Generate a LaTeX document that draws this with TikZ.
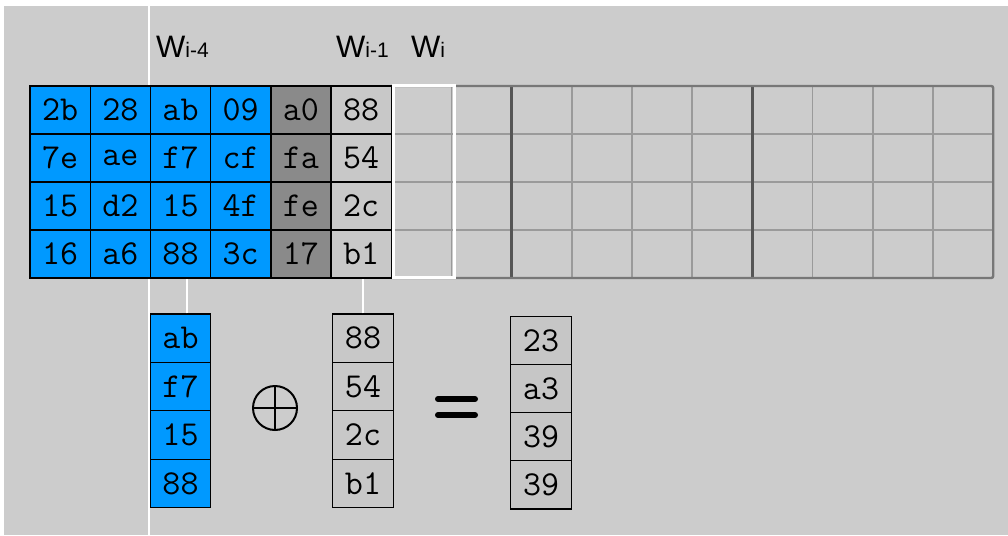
\documentclass[tikz,border=0pt]{standalone}
\usepackage{fontspec}
\setmainfont{Liberation Sans}
\definecolor{bg}{HTML}{CCCCCC}
\definecolor{aesblue}{HTML}{0099FF}
\definecolor{darkcell}{HTML}{8A8A8A}
\definecolor{lightcell}{HTML}{C8C8C8}
\definecolor{resultcell}{HTML}{C6C6C6}
\definecolor{gridgray}{HTML}{9A9A9A}
\definecolor{thickgray}{HTML}{555555}
\definecolor{bordergray}{HTML}{777777}
\begin{document}
\begin{tikzpicture}[x=1pt,y=-1pt,
  cell/.style={draw=black, line width=1.3pt, minimum width=60.2pt, minimum height=48pt,
    inner sep=0pt, font=\ttfamily\fontsize{35}{35}\selectfont, text=black},
  bcell/.style={cell, minimum width=60.5pt, minimum height=48.4pt},
  wline/.style={draw=white, line width=1.8pt},
  glabel/.style={anchor=base west, inner sep=0pt, font=\fontsize{31}{31}\selectfont}
]
\useasboundingbox (0,0) rectangle (1008,535);
\fill[bg] (4,6) rectangle (1008,535);
% guide line
\coordinate (gtop) at (149,6);
\coordinate (gbot) at (149,535);
\draw[wline] (gtop) -- (gbot);
% empty grid
\foreach \k in {7,...,15} {
  \draw[gridgray, line width=1.6pt] ({30+\k*60.2},86) -- ({30+\k*60.2},278);
}
\foreach \j in {1,2,3} {
  \draw[gridgray, line width=1.6pt] (391.2,{86+\j*48}) -- (993.2,{86+\j*48});
}
\foreach \k in {8,12} {
  \draw[thickgray, line width=3pt] ({30+\k*60.2},86) -- ({30+\k*60.2},278);
}
\draw[bordergray, line width=2.4pt, rounded corners=2pt] (391.2,86) -- (993.2,86) -- (993.2,278) -- (391.2,278);
% filled cells
\foreach \r/\a/\b/\c/\d/\e/\f in {1/2b/28/ab/09/a0/88, 2/7e/ae/f7/cf/fa/54, 3/15/d2/15/4f/fe/2c, 4/16/a6/88/3c/17/b1} {
  \node[cell, fill=aesblue] (g-1-\r) at ({30+0.5*60.2},{86+(\r-0.5)*48}) {\a};
  \node[cell, fill=aesblue] (g-2-\r) at ({30+1.5*60.2},{86+(\r-0.5)*48}) {\b};
  \node[cell, fill=aesblue] (g-3-\r) at ({30+2.5*60.2},{86+(\r-0.5)*48}) {\c};
  \node[cell, fill=aesblue] (g-4-\r) at ({30+3.5*60.2},{86+(\r-0.5)*48}) {\d};
  \node[cell, fill=darkcell] (g-5-\r) at ({30+4.5*60.2},{86+(\r-0.5)*48}) {\e};
  \node[cell, fill=lightcell] (g-6-\r) at ({30+5.5*60.2},{86+(\r-0.5)*48}) {\f};
}
\draw[black, line width=2.4pt] (270.8,86) -- (270.8,278);
% current word
\node[draw=white, line width=3pt, minimum width=61pt, minimum height=192pt, inner sep=0pt] (wi) at (423.5,181.5) {};
% labels
\node[glabel] (l4) at (156,57) {W\fontsize{21}{21}\selectfont i-4};
\node[glabel] (l1) at (336,57) {W\fontsize{21}{21}\selectfont i-1};
\node[glabel] (l0) at (411,57) {W\fontsize{21}{21}\selectfont i};
% bottom columns
\foreach \r/\t in {1/ab,2/f7,3/15,4/88} {
  \node[bcell, fill=aesblue] (a\r) at (180.5,{314+(\r-0.5)*48.4}) {\t};
}
\foreach \r/\t in {1/88,2/54,3/2c,4/b1} {
  \node[bcell, fill=lightcell] (b\r) at (363,{314+(\r-0.5)*48.4}) {\t};
}
\foreach \r/\t in {1/23,2/a3,3/39,4/39} {
  \node[bcell, fill=resultcell] (c\r) at (541,{316.5+(\r-0.5)*48.1}) {\t};
}
% connectors
\draw[wline] ([xshift=6.5pt]a1.north) -- ([xshift=6.5pt]a1.north |- g-3-4.south);
\draw[wline] (b1.north) -- (b1.north |- g-6-4.south);
% xor sign
\node[circle, draw=black, line width=2pt, minimum size=44pt, inner sep=0pt] (xor) at (275,408) {};
\draw[black, line width=2pt] (xor.north) -- (xor.south);
\draw[black, line width=2pt] (xor.west) -- (xor.east);
% equals sign
\coordinate (eqa) at (438,399);
\coordinate (eqb) at (475,399);
\coordinate (eqc) at (438,415);
\coordinate (eqd) at (475,415);
\draw[black, line width=6pt, line cap=round] (eqa) -- (eqb);
\draw[black, line width=6pt, line cap=round] (eqc) -- (eqd);
\end{tikzpicture}
\end{document}
